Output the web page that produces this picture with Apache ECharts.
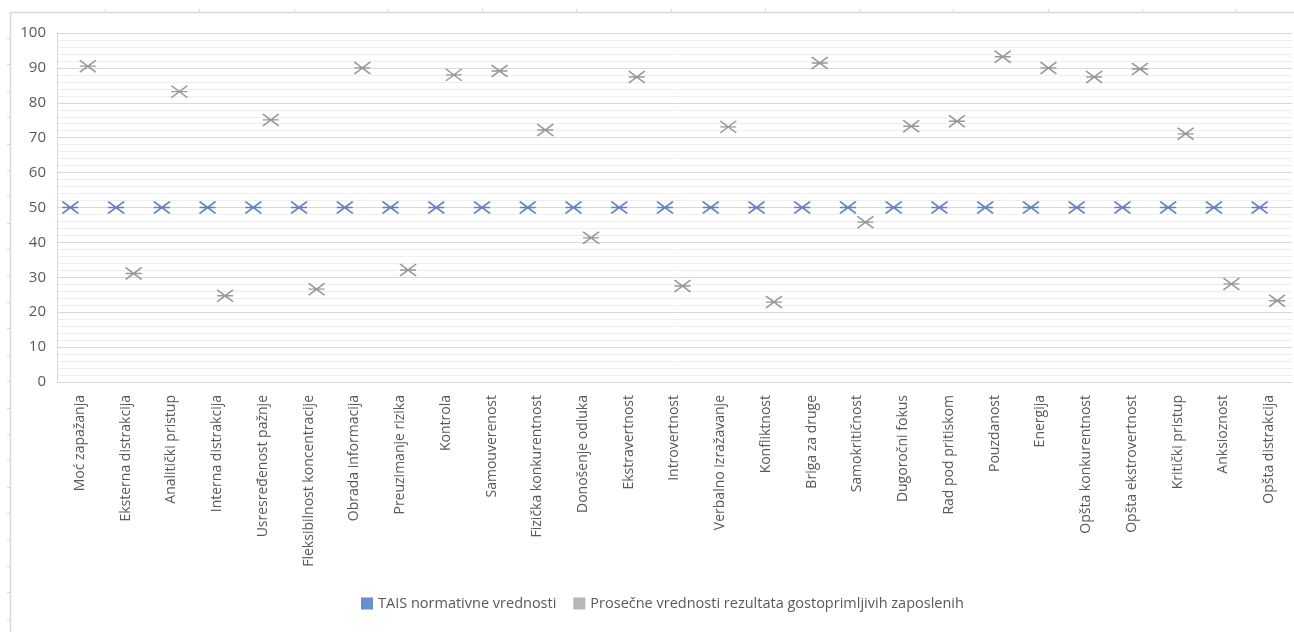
<!DOCTYPE html>
<html>
<head>
<meta charset="utf-8">
<script src="https://cdn.jsdelivr.net/npm/echarts@6/dist/echarts.min.js"></script>
<style>
  html, body { margin: 0; padding: 0; background: #ffffff; }
  #chart { width: 1294px; height: 632px; }
</style>
</head>
<body>
<div id="chart"></div>
<script>
// TAIS scales
const categories = [
  'Moć zapažanja', 'Eksterna distrakcija', 'Analitički pristup', 'Interna distrakcija',
  'Usresređenost pažnje', 'Fleksibilnost koncentracije', 'Obrada informacija',
  'Preuzimanje rizika', 'Kontrola', 'Samouverenost', 'Fizička konkurentnost',
  'Donošenje odluka', 'Ekstravertnost', 'Introvertnost', 'Verbalno izražavanje',
  'Konfliktnost', 'Briga za druge', 'Samokritičnost', 'Dugoročni fokus',
  'Rad pod pritiskom', 'Pouzdanost', 'Energija', 'Opšta konkurentnost',
  'Opšta ekstrovertnost', 'Kritički pristup', 'Anksioznost', 'Opšta distrakcija'
];

// Normative values
const normValues = [
  50, 50, 50, 50, 50, 50, 50, 50, 50, 50, 50, 50, 50, 50,
  50, 50, 50, 50, 50, 50, 50, 50, 50, 50, 50, 50, 50
];

// Average scores of hospitality employees
const employeeValues = [
  90.5, 31.1, 83.2, 24.7, 75.1, 26.6, 90.0, 32.1, 88.0, 89.1, 72.2, 41.3, 87.4, 27.5,
  73.1, 22.9, 91.4, 45.8, 73.3, 74.7, 93.2, 90.0, 87.4, 89.7, 71.1, 28.1, 23.3
];

const seriesNames = ['TAIS normativne vrednosti', 'Prosečne vrednosti rezultata gostoprimljivih zaposlenih'];
const seriesColors = ['#4472C4', '#A5A5A5'];
const markerColors = ['#4069B5', '#808080'];

const yMin = 0, yMax = 100, yStep = 10;

// asterisk marker: two diagonals plus a horizontal bar
const starPath = 'path://M0,0L16,12M0,12L16,0M0,6L16,6';

const textColor = '#595959';
const font = 'Open Sans';

// faint page frame with ruler ticks
const frameColor = '#dadada';
const frame = [
  { type: 'line', shape: { x1: 10.5, y1: 12, x2: 10.5, y2: 632 }, style: { stroke: frameColor, lineWidth: 1.5 }, silent: true },
  { type: 'line', shape: { x1: 10, y1: 12.5, x2: 1294, y2: 12.5 }, style: { stroke: frameColor, lineWidth: 1.5 }, silent: true }
];
for (let x = 105; x < 1294; x += 94.25) {
  frame.push({ type: 'line', shape: { x1: Math.round(x) + 0.5, y1: 9, x2: Math.round(x) + 0.5, y2: 12 }, style: { stroke: frameColor, lineWidth: 1 }, silent: true });
}
for (let y = 38; y < 632; y += 26.4) {
  frame.push({ type: 'line', shape: { x1: 7, y1: Math.round(y) + 0.5, x2: 10, y2: Math.round(y) + 0.5 }, style: { stroke: frameColor, lineWidth: 1 }, silent: true });
}

const chart = echarts.init(document.getElementById('chart'), null, { renderer: 'canvas' });

chart.setOption({
  animation: false,
  backgroundColor: '#ffffff',
  textStyle: { fontFamily: font },
  graphic: frame,
  grid: { left: 57, right: 2, top: 33, bottom: 250, containLabel: false },
  legend: {
    bottom: 16,
    left: 356,
    itemWidth: 12,
    itemHeight: 12,
    itemGap: 17,
    textStyle: { color: textColor, fontSize: 14.5, fontFamily: font },
    data: seriesNames.map((n, i) => ({ name: n, icon: 'rect', itemStyle: { color: seriesColors[i], borderWidth: 0 } }))
  },
  xAxis: {
    type: 'category',
    data: categories,
    boundaryGap: true,
    axisLine: { show: true, lineStyle: { color: '#d9d9d9', width: 1 } },
    axisTick: { show: false },
    axisLabel: { interval: 0, rotate: 90, margin: 13, color: textColor, fontSize: 14, fontFamily: font },
    splitLine: { show: false }
  },
  yAxis: {
    type: 'value',
    min: yMin,
    max: yMax,
    interval: yStep,
    axisLine: { show: true, lineStyle: { color: '#d9d9d9', width: 1 } },
    axisTick: { show: false },
    axisLabel: { margin: 11, color: textColor, fontSize: 15, fontFamily: font },
    splitLine: { show: true, lineStyle: { color: '#d9d9d9', width: 1 } },
    minorTick: { show: false, splitNumber: 5 },
    minorSplitLine: { show: true, lineStyle: { color: '#eeeeee', width: 1 } }
  },
  series: [
    {
      name: seriesNames[0],
      type: 'scatter',
      data: normValues,
      symbol: starPath,
      symbolSize: [16, 12],
      symbolOffset: [-9.5, 0],
      itemStyle: { color: 'rgba(0,0,0,0)', borderColor: markerColors[0], borderWidth: 2 },
      emphasis: { disabled: true }
    },
    {
      name: seriesNames[1],
      type: 'scatter',
      data: employeeValues,
      symbol: starPath,
      symbolSize: [16, 12],
      symbolOffset: [8, 0],
      itemStyle: { color: 'rgba(0,0,0,0)', borderColor: markerColors[1], borderWidth: 1.6 },
      emphasis: { disabled: true }
    }
  ]
});
</script>
</body>
</html>
